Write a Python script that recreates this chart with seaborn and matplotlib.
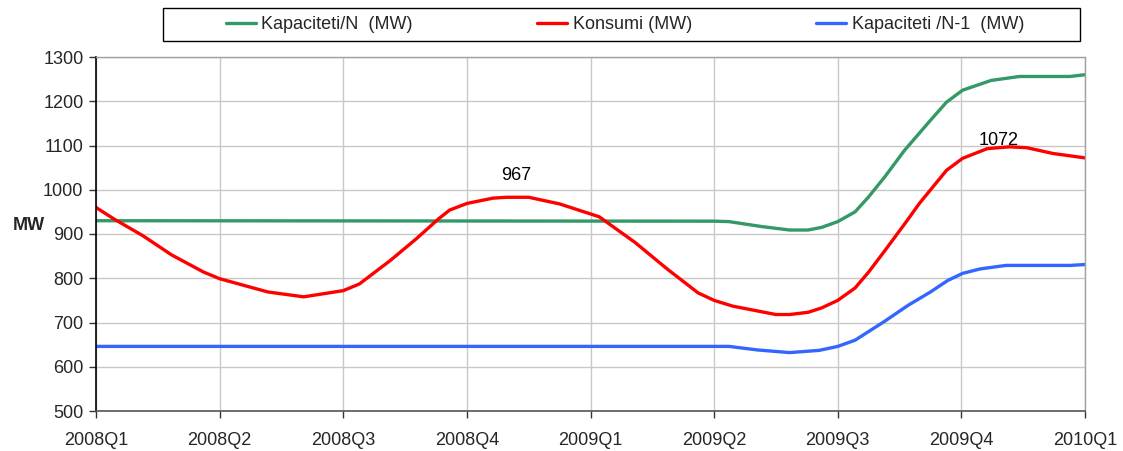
import matplotlib
matplotlib.use("Agg")
import matplotlib.pyplot as plt
from matplotlib.patches import Rectangle
import seaborn as sns
import numpy as np

# quarter labels on the x axis
quarters = ["2008Q1", "2008Q2", "2008Q3", "2008Q4", "2009Q1",
            "2009Q2", "2009Q3", "2009Q4", "2010Q1"]

# positions in quarters since 2008Q1
t_cap = [0, 5.0, 5.12, 5.38, 5.61, 5.76, 5.87, 6.0, 6.14, 6.25, 6.38,
         6.54, 6.75, 6.88, 7.01, 7.24, 7.47, 7.88, 8.0]
cap_n = [930, 929, 928, 917, 909, 909, 915, 928, 950, 984, 1029,
         1089, 1157, 1198, 1225, 1247, 1256, 1256, 1260]

t_kons = [0, 0.145, 0.38, 0.61, 0.87, 1.0, 1.39, 1.68, 2.0, 2.13, 2.38,
          2.59, 2.77, 2.86, 3.0, 3.21, 3.32, 3.5, 3.75, 4.07, 4.36, 4.62,
          4.87, 5.0, 5.15, 5.5, 5.61, 5.76, 5.87, 6.0, 6.14, 6.25, 6.38,
          6.56, 6.66, 6.88, 7.01, 7.21, 7.39, 7.53, 7.74, 8.0]
konsumi = [960, 934, 896, 853, 814, 799, 769, 758, 772, 787, 840,
           889, 934, 954, 969, 981, 983, 983, 968, 939, 881, 821,
           767, 750, 737, 718, 718, 723, 733, 750, 778, 814, 862,
           930, 969, 1044, 1071, 1093, 1097, 1095, 1082, 1072]

t_n1 = [0, 5.12, 5.35, 5.61, 5.85, 6.0, 6.14, 6.37, 6.57, 6.75, 6.89,
        7.01, 7.15, 7.36, 7.88, 8.0]
cap_n1 = [646, 646, 638, 632, 637, 646, 660, 701, 739, 769, 795,
          811, 821, 829, 829, 831]

# annotated peaks
peak_labels = ["967", "1072"]
peak_t = [3.4, 7.3]
peak_y = [1032, 1112]

sns.set_style("white")
plt.rcParams["font.family"] = ["Liberation Sans", "DejaVu Sans"]
fs = 13

fig = plt.figure(figsize=(11.23, 4.51), dpi=100)
ax = fig.add_axes([96 / 1123, 1 - 411 / 451, (1085 - 96) / 1123, (411 - 57) / 451])

lw = 2.4
sns.lineplot(x=t_cap, y=cap_n, ax=ax, color="#339966", linewidth=lw,
             label="Kapaciteti/N  (MW)", sort=False)
sns.lineplot(x=t_kons, y=konsumi, ax=ax, color="#FF0000", linewidth=lw,
             label="Konsumi (MW)", sort=False)
sns.lineplot(x=t_n1, y=cap_n1, ax=ax, color="#3366FF", linewidth=lw,
             label="Kapaciteti /N-1  (MW)", sort=False)

for lab, tx, ty in zip(peak_labels, peak_t, peak_y):
    ax.text(tx, ty, lab, ha="center", va="center", fontsize=fs, color="black")

ax.set_xlim(0, len(quarters) - 1)
ax.set_ylim(500, 1300)
ax.set_xticks(np.arange(len(quarters)))
ax.set_xticklabels(quarters)
ax.set_yticks(np.arange(500, 1301, 100))
ax.tick_params(axis="both", labelsize=fs, direction="out", length=5,
               width=1, color="#333333", bottom=True, left=True, pad=4)
ax.tick_params(axis="x", pad=10)

ax.grid(True, color="#c8c8c8", linewidth=1)
ax.set_axisbelow(True)
for side in ["top", "right"]:
    ax.spines[side].set_color("#a0a0a0")
    ax.spines[side].set_linewidth(1)
ax.spines["left"].set_color("black")
ax.spines["bottom"].set_color("#555555")
ax.spines["left"].set_linewidth(1.2)
ax.spines["bottom"].set_linewidth(1.2)

ax.set_xlabel("")
ax.set_ylabel("MW", rotation=0, fontsize=fs, fontweight="bold")
ax.yaxis.set_label_coords(-0.068, 0.5)

# legend box across the top, entries spaced evenly inside it
handles, labels = ax.get_legend_handles_labels()
ax.get_legend().remove()
fig.patches.append(Rectangle((163 / 1123, 1 - 41 / 451), (1080 - 163) / 1123, 33 / 451,
                             transform=fig.transFigure, fill=False,
                             edgecolor="black", linewidth=1))
fig.legend(handles, labels, ncol=3, loc="center",
           bbox_to_anchor=(625 / 1123, 1 - 24.5 / 451),
           fontsize=fs, frameon=False, handlelength=1.65,
           handletextpad=0.3, columnspacing=6.9, borderaxespad=0)

fig.savefig("out.png", dpi=100)
